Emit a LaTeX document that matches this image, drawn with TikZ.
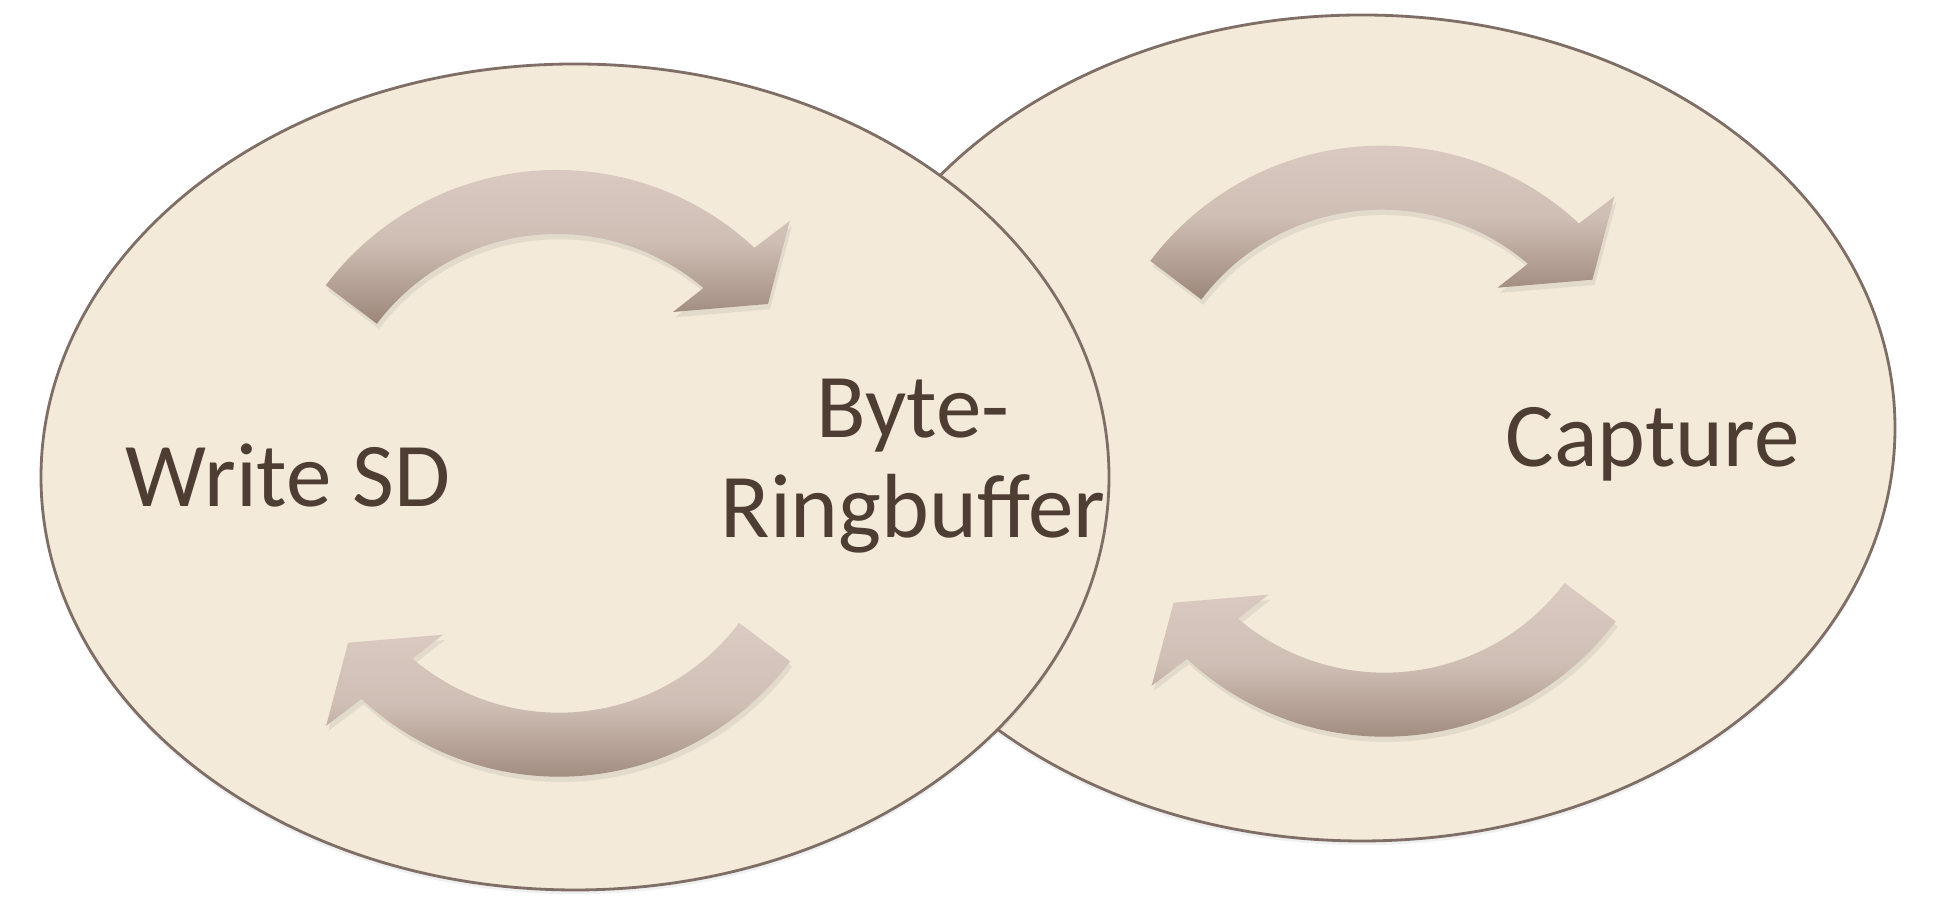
\documentclass[tikz,border=0pt]{standalone}
\usepackage{fontspec}
\setmainfont{Carlito}
\usetikzlibrary{shadows}

\definecolor{ringfill}{HTML}{F3EAD9}
\definecolor{ringline}{HTML}{7E6E66}
\definecolor{ringtext}{HTML}{4E3D33}
\definecolor{arrowtop}{HTML}{DBCBC2}
\definecolor{arrowmid}{HTML}{CFBEB4}
\definecolor{arrowbot}{HTML}{9C867A}

\tikzset{
 ring/.style={fill=ringfill, draw=ringline, line width=0.8pt,
  drop shadow={shadow xshift=0pt, shadow yshift=-1.2pt, opacity=0.12}},
 turn/.style={top color=arrowtop, bottom color=arrowbot, middle color=arrowmid,
  drop shadow={shadow xshift=0.6pt, shadow yshift=-1.5pt, opacity=0.14}},
 word/.style={text=ringtext, font=\fontsize{25.9}{30}\selectfont, inner sep=0pt, anchor=base}
}

% curved arrow round (#1,#2), turned by #3 degrees
\newcommand{\turnarrow}[3]{%
 \begin{scope}[shift={(#1,#2)}]
  \path[turn] (143+#3:289.5) arc[start angle=143+#3, end angle=47+#3, radius=289.5]
   -- (45.7+#3:333.4) -- (36.4+#3:262.1) -- (51.8+#3:187.7)
   -- (49.5+#3:225.5) arc[start angle=49.5+#3, end angle=143+#3, radius=225.5] -- cycle;
 \end{scope}}

\begin{document}
\begin{tikzpicture}[x=0.01cm, y=0.01cm]
 \useasboundingbox (0,0) rectangle (1938,922);
 % capture side
 \draw[ring] (1362,494) ellipse [x radius=533, y radius=413];
 \turnarrow{1381.5}{486.8}{0}
 \turnarrow{1384.5}{474.8}{180}
 % sd side
 \draw[ring] (575,445) ellipse [x radius=534, y radius=413];
 \turnarrow{557}{462.5}{0}
 \turnarrow{559}{434.8}{180}
 % texts
 \node[word] (sd) at (288,415) {Write SD};
 \node[word] (byte) at (913,484.5) {Byte-};
 \node[word] (ring) at (913,384.5) {Ringbuffer};
 \node[word] (capture) at (1652.5,455) {Capture};
\end{tikzpicture}
\end{document}
